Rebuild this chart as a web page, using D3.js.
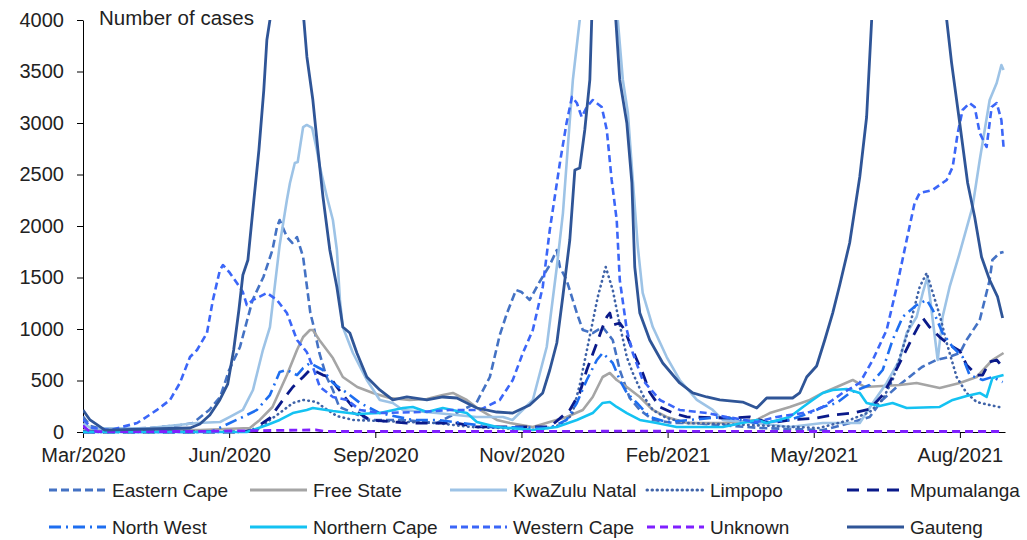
<!DOCTYPE html>
<html>
<head>
<meta charset="utf-8">
<script src="https://cdn.jsdelivr.net/npm/d3@7"></script>
<style>
body { margin: 0; background: #fff; }
svg { display: block; }
text { font-family: "Liberation Sans", Arial, sans-serif; fill: #222; }
</style>
</head>
<body>
<svg id="chart" width="1027" height="540"></svg>
<script>
// days counted from the first point of the series
const tickDays = [0, 81, 162, 243, 324, 405, 486]
const tickLabels = ["Mar/2020", "Jun/2020", "Sep/2020", "Nov/2020", "Feb/2021", "May/2021", "Aug/2021"]
const yTicks = [0, 500, 1000, 1500, 2000, 2500, 3000, 3500, 4000]

const easternCape = [[0,150],[4,60],[10,30],[37,39],[54,68],[61,87],[70,214],[76,340],[81,602],[87,825],[91,1087],[94,1282],[100,1505],[105,1767],[107.5,1990],[109,2058],[113,1893],[116,1835],[118.6,1893],[122,1699],[124,1427],[126,1155],[127.4,1058],[131,767],[135,534],[138.5,408],[142,243],[159,117],[177,117],[196,87],[218,282],[225.5,534],[231,942],[235,1155],[240,1379],[243,1359],[247.6,1282],[253,1456],[258.7,1621],[262.6,1767],[264.3,1602],[268,1476],[273.7,1155],[277,990],[282.5,961],[288,1019],[293.6,893],[297.5,602],[303,330],[308.6,214],[316,117],[327,87],[338,87],[375,39],[410,19],[425,87],[436,146],[443,311],[451,437],[458,534],[465,631],[473,699],[480,728],[486,767],[489.7,893],[497,1087],[502.5,1476],[504,1670],[508,1738],[510.2,1748]]
const freeState = [[0,19],[65,19],[92.5,39],[98,117],[105,243],[113,553],[118.6,796],[122,922],[125.8,990],[127.4,990],[131,893],[138.5,718],[144,534],[152,437],[160.7,379],[170,330],[181,311],[190.6,320],[199.4,359],[205,379],[212.7,311],[220,214],[229.4,117],[236.6,87],[249.3,49],[268,146],[277,214],[282.5,340],[288,534],[292,573],[295.8,505],[301.4,437],[308.6,340],[315.8,214],[323.5,146],[334.6,87],[354.6,87],[373.4,117],[380.6,184],[391.7,243],[402.8,311],[410,379],[417.7,437],[426.6,505],[433.2,437],[452.6,456],[462,476],[474.8,427],[485.9,476],[495.3,534],[504,699],[510.2,767]]
const kwaZuluNatal = [[0,80],[5,35],[37,39],[63,87],[76,97],[81.4,146],[88.6,214],[94.2,408],[99.7,796],[103.6,1019],[109,1816],[113,2252],[114.7,2418],[117.4,2612],[119,2621],[122,2961],[124,2981],[127,2952],[129.6,2738],[131.3,2573],[135.2,2282],[138.5,2058],[140.7,1767],[142.4,1282],[144,1019],[149.6,767],[157.3,505],[164.5,311],[171.7,282],[177.3,214],[196,184],[218,146],[232.7,146],[238,117],[249.3,311],[257,825],[262.6,1602],[266,2126],[268.7,2767],[271.5,3418],[275.3,4000],[285.3,5300],[296.4,4000],[299.2,3418],[302,3097],[304.7,2447],[307.5,1796],[310.2,1350],[315.8,1019],[323.5,728],[330.7,505],[340.2,311],[349,214],[354.6,117],[373.4,87],[391.7,49],[410,87],[430.5,87],[437.7,282],[445.4,476],[452.6,699],[456.5,961],[462,1117],[465.4,1350],[468,1505],[473.7,699],[476.4,1117],[480.3,1408],[485.9,1738],[493,2185],[497,2641],[502.5,3223],[506.4,3388],[509,3563],[510.2,3515]]
const limpopo = [[0,0],[87,0],[96.4,19],[103.6,117],[109,184],[116.3,282],[122,311],[129.6,291],[133,243],[140.7,155],[149.6,117],[164.5,107],[196,87],[214.4,49],[231,39],[253,19],[264.3,68],[271,165],[275.3,456],[281,942],[285.3,1311],[289.7,1602],[293.6,1379],[297.5,1039],[301.4,728],[304.7,573],[310.2,359],[315.8,214],[323.5,136],[334.6,87],[369.5,68],[408,39],[425,117],[436,194],[443,311],[448.7,505],[452.6,718],[458,1019],[463.7,1408],[467.6,1544],[471,1350],[474.8,1136],[478.7,864],[484.2,534],[489.7,379],[495.3,291],[502.5,262],[510.2,233]]
const mpumalanga = [[0,0],[87,0],[94,19],[103.6,136],[110.8,311],[116.3,437],[122,534],[125.8,602],[129.6,583],[133,553],[136.8,534],[140.7,437],[146.3,311],[151.8,194],[159,117],[179.5,87],[207,87],[218,49],[258.7,49],[269.8,214],[275.3,379],[279.2,602],[284.8,864],[288,1019],[290.3,1117],[292,1155],[293.6,1039],[297.5,1058],[300.3,990],[303,864],[307,699],[310.2,573],[314,388],[319.7,243],[327,184],[334.6,146],[358.4,136],[369.5,146],[380.6,87],[391.7,117],[406.6,136],[415.5,165],[426.6,184],[436,223],[443.2,359],[448.7,534],[454.3,728],[459.8,922],[465.4,1107],[469.2,1019],[474.8,922],[480.3,845],[486,786],[489.7,651],[495.3,553],[498.6,553],[502.5,680],[506.4,699],[509.7,631]]
const northWest = [[0,0],[65,0],[72,10],[81.4,87],[88.6,146],[96.4,214],[103.6,359],[109,583],[113,602],[118.6,553],[122,621],[125.8,670],[133,602],[138.5,476],[146.3,379],[153.5,282],[164.5,184],[182.8,117],[196,117],[210.5,87],[225.5,49],[258.7,39],[268,117],[273.7,282],[279.2,505],[284.8,699],[288,767],[290.3,728],[293.6,670],[297.5,505],[301.4,379],[307,282],[314,146],[323.5,97],[354.6,146],[373.4,87],[391.7,117],[402.8,184],[410,243],[417.7,282],[425,379],[436,456],[443.2,602],[448.7,893],[454.3,1117],[462,1233],[467.6,1282],[471,1184],[476.4,961],[482,825],[487.5,728],[491.4,553],[498.6,505],[504,534],[509.7,485]]
const northernCape = [[0,0],[90.8,0],[102,68],[109,117],[116.3,184],[124,214],[127.4,233],[138.5,204],[151.8,175],[164.5,184],[177.3,233],[182.8,243],[190.6,194],[199.4,233],[212.7,184],[218.3,97],[229.4,49],[249.3,19],[262.6,49],[273.7,117],[282.5,184],[288,282],[292,291],[295.8,243],[301.4,184],[308.6,117],[318,87],[329,49],[354.6,49],[373.4,117],[379,87],[391.7,146],[399,243],[404.4,311],[410,379],[415.5,408],[423.3,417],[430.5,379],[434.3,282],[441.5,252],[448.7,282],[456.5,233],[474.8,243],[482,311],[489.7,350],[497,379],[500.8,340],[504,524],[510.2,553]]
const westernCape = [[0,120],[5,40],[15,19],[30,87],[41,214],[48.2,311],[53.7,476],[59.3,728],[63.2,796],[68.7,961],[72,1282],[75.9,1573],[77.6,1621],[81.4,1544],[85.3,1447],[88.6,1359],[90.8,1233],[94.2,1282],[102,1350],[107.5,1282],[113,1155],[118.6,893],[124,777],[127.4,631],[131.3,437],[138.5,340],[146.3,311],[153.5,214],[164.5,184],[186.7,194],[203.3,214],[220,214],[231,311],[238.2,505],[243.8,767],[249.3,990],[254.8,1408],[258.7,1961],[264.3,2612],[268,3000],[271,3253],[273.7,3194],[276.4,3058],[279.2,3155],[282.5,3223],[287.5,3155],[290.3,2932],[293,2447],[295.8,2058],[297.5,1476],[301.4,990],[304.7,767],[310.2,505],[319.7,311],[330.7,214],[345.7,184],[356.8,146],[373.4,97],[384.5,146],[402.8,194],[410,243],[415.5,311],[421,379],[430.5,476],[437.7,699],[445.4,990],[451,1408],[456.5,1864],[460.9,2223],[463.7,2320],[470.9,2350],[478.7,2447],[482,2573],[484.8,2903],[487.5,3126],[491.4,3194],[494.2,3155],[497,2903],[500.8,2767],[503.6,3155],[506.4,3194],[509,3029],[510.2,2767]]
const unknown = [[0,60],[3,15],[8,4],[60,5],[129,20],[134,5],[250,5],[300,8],[400,5],[510.2,5]]
const gauteng = [[0,214],[3.9,117],[12.2,19],[37,29],[59.3,39],[64.8,78],[70.3,165],[75.8,311],[80.2,466],[83.5,796],[86.4,1184],[88.6,1524],[91.4,1670],[94.7,2252],[97.5,2738],[100.2,3320],[101.9,3806],[103.6,4000],[114.7,5500],[122.4,4000],[124.1,3641],[127.4,3223],[130.2,2738],[133,2282],[136.8,1767],[140.7,1408],[144,1019],[147.9,961],[151.8,767],[157.3,534],[164.5,408],[171.7,311],[179.5,340],[190.6,311],[199.4,340],[207.2,330],[218.3,233],[229.3,194],[238.2,184],[247.6,262],[254.8,379],[258.7,602],[262.6,864],[265.9,1311],[269.8,1864],[272.6,2544],[275.3,2563],[278.1,2932],[280.9,3418],[286.4,6500],[295.3,4000],[297.5,3418],[301.4,3000],[304.2,2418],[305.8,1602],[308.6,1155],[314.1,893],[321.3,670],[330.7,476],[337.9,379],[345.7,340],[352.9,311],[365.6,291],[373.4,233],[378.9,330],[393.3,330],[397.2,379],[401.1,534],[406.6,641],[411.1,893],[415.5,1155],[419.4,1427],[424.9,1835],[430.5,2476],[434.3,3058],[437.1,4000],[445,8000],[455,11500],[465,9500],[475,6500],[478.7,4000],[481.4,3583],[485.9,3000],[490.3,2418],[494.2,2087],[498,1699],[502.5,1476],[506.9,1311],[509.7,1107]]

const series = [
  {name: "Eastern Cape", data: easternCape, color: "#4472C4", dash: "8,4", width: 2.6},
  {name: "Free State", data: freeState, color: "#A5A5A5", dash: null, width: 2.6},
  {name: "KwaZulu Natal", data: kwaZuluNatal, color: "#9DC3E6", dash: null, width: 2.6},
  {name: "Limpopo", data: limpopo, color: "#3F63A8", dash: "0.5,4.5", width: 2.6, cap: "round"},
  {name: "Mpumalanga", data: mpumalanga, color: "#0A1A8A", dash: "12,8", width: 2.8},
  {name: "North West", data: northWest, color: "#1E6EF0", dash: "12,5,2,5", width: 2.6},
  {name: "Northern Cape", data: northernCape, color: "#14C2F2", dash: null, width: 2.6},
  {name: "Western Cape", data: westernCape, color: "#3B66F8", dash: "7,4", width: 2.6},
  {name: "Unknown", data: unknown, color: "#7F1FFF", dash: "8,5", width: 2.8},
  {name: "Gauteng", data: gauteng, color: "#2F5597", dash: null, width: 2.8}
]

const svg = d3.select("#chart")
const plotLeft = 83, plotRight = 1005, plotTop = 20, plotBottom = 432

const x = d3.scaleLinear().domain([0, 511]).range([plotLeft, plotRight])
const y = d3.scaleLinear().domain([0, 4000]).range([plotBottom, plotTop])

// axes first, so the lines sit on top of them
const xAxis = svg.append("g")
   .attr("transform", "translate(0," + plotBottom + ")")
   .call(d3.axisBottom(x).tickValues(tickDays).tickSize(6).tickSizeOuter(0)
           .tickFormat((d, i) => tickLabels[i]))
xAxis.selectAll("text").attr("font-size", 20).attr("dy", "1.05em")

const yAxis = svg.append("g")
   .attr("transform", "translate(" + plotLeft + ",0)")
   .call(d3.axisLeft(y).tickValues(yTicks).tickSize(6).tickSizeOuter(0)
           .tickFormat(d3.format("d")))
yAxis.selectAll("text").attr("font-size", 20).attr("x", -19)

svg.selectAll(".domain, .tick line").attr("stroke", "#000")
svg.selectAll(".tick text").attr("fill", "#222").attr("font-family", "Liberation Sans, Arial, sans-serif")

svg.append("clipPath").attr("id", "plotClip")
   .append("rect")
   .attr("x", plotLeft).attr("y", plotTop)
   .attr("width", plotRight - plotLeft + 5).attr("height", plotBottom - plotTop + 8)

const line = d3.line()
               .x(d => x(d[0]))
               .y(d => y(d[1]))

const lines = svg.append("g").attr("clip-path", "url(#plotClip)")

series.forEach(s => {
    lines.append("path")
         .datum(s.data)
         .attr("fill", "none")
         .attr("stroke", s.color)
         .attr("stroke-width", s.width)
         .attr("stroke-dasharray", s.dash)
         .attr("stroke-linecap", s.cap || "butt")
         .attr("stroke-linejoin", "round")
         .attr("d", line)
})

svg.append("text")
   .attr("x", 99).attr("y", 25)
   .attr("font-size", 20.5)
   .text("Number of cases")

// legend, two rows of five
const legendX = [49, 250, 450, 647, 847]
const legendY = [490, 527]

series.forEach((s, i) => {
    const g = svg.append("g")
       .attr("transform", "translate(" + legendX[i % 5] + "," + legendY[Math.floor(i / 5)] + ")")
    g.append("line")
     .attr("x1", 0).attr("x2", 57)
     .attr("stroke", s.color)
     .attr("stroke-width", s.width + 0.4)
     .attr("stroke-dasharray", s.dash)
     .attr("stroke-linecap", s.cap || "butt")
    g.append("text")
     .attr("x", 63).attr("dy", "0.35em")
     .attr("font-size", 19)
     .text(s.name)
})
</script>
</body>
</html>
